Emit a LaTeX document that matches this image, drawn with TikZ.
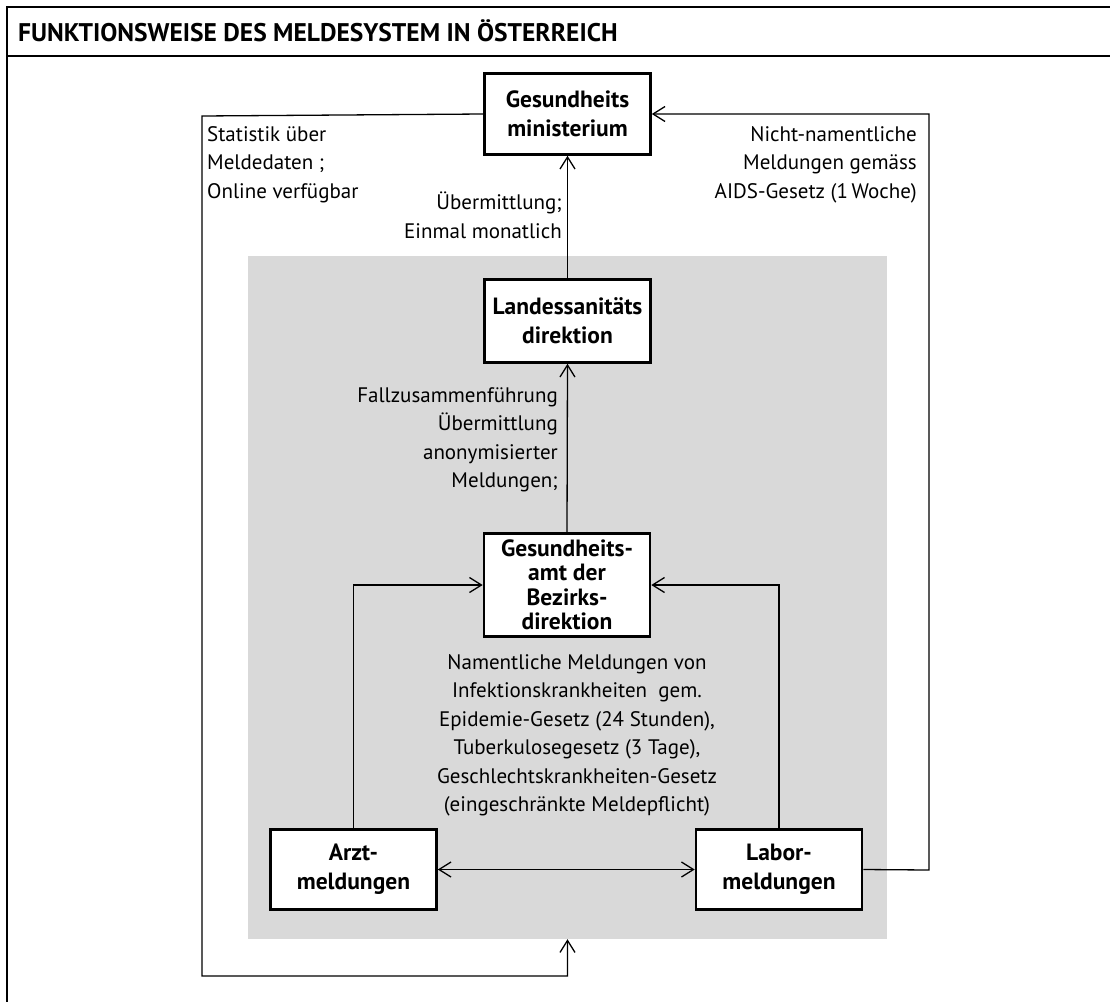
\documentclass[tikz,border=0pt]{standalone}
\usepackage{fontspec}
\setmainfont{PT Sans}
\usetikzlibrary{arrows.meta}
\definecolor{panelgrey}{RGB}{217,217,217}

\begin{document}
\begin{tikzpicture}[x=1pt,y=-1pt,
  box/.style={draw, line width=2.6pt, fill=white, align=center, inner sep=0pt,
    minimum width=166pt, font=\bfseries\fontsize{23.5}{29}\selectfont},
  note/.style={inner sep=0pt, font=\fontsize{21}{28.5}\selectfont},
  link/.style={line width=1.3pt, -{Straight Barb[length=12pt,width=15pt]}}]
\useasboundingbox (0,0) rectangle (1110,1001);

%% frame and title
\draw[line width=2.2pt] (7,1010) -- (7,7) -- (1120,7);
\draw[line width=2.2pt] (7,56) -- (1120,56);
\node[anchor=base west, inner sep=0pt, font=\bfseries\fontsize{25.5}{30}\selectfont]
  (title) at (18,41) {FUNKTIONSWEISE DES MELDESYSTEM IN ÖSTERREICH};

%% grey panel
\node[fill=panelgrey, inner sep=0pt, minimum width=639pt, minimum height=683pt]
  (panel) at (567.5,597.5) {};

%% boxes
\node[box, minimum height=81pt] (minis) at (567.5,114) {Gesundheits\\ministerium};
\node[box, minimum height=83pt] (landes) at (567.5,321) {Landessanitäts\\direktion};
\node[box, minimum height=103pt, font=\bfseries\fontsize{23.5}{24.5}\selectfont]
  (bezirk) at (567,585) {Gesundheits-\\amt der\\Bezirks-\\direktion};
\node[box, minimum height=80pt] (arzt) at (353.5,869.5) {Arzt-\\meldungen};
\node[box, minimum height=80pt] (labor) at (779,869.5) {Labor-\\meldungen};

%% corners of the outer lines
\coordinate (lefttop) at (202,116);
\coordinate (leftbot) at (202,976);
\coordinate (rightcol) at (929,870);

%%% arrows
\draw[link] (landes.north) -- (minis.south);
\draw[link] (bezirk.north) -- (landes.south);
\draw[link] (arzt.north) |- (bezirk.west);
\draw[link] (labor.north) |- (bezirk.east);
\draw[link, {Straight Barb[length=12pt,width=15pt]}-{Straight Barb[length=12pt,width=15pt]}]
  (arzt.east) -- (labor.west);
\draw[link] (labor.east) -- (rightcol) |- (minis.east);
\draw[link] (minis.west) -- (lefttop) -- (leftbot) -| (panel.south);

%% texts
\node[note, anchor=north west, align=left] (stat) at (207,126)
  {Statistik über\\Meldedaten ;\\Online verfügbar};
\node[note, anchor=north east, align=right] (monat) at (562,192)
  {Übermittlung;\\Einmal monatlich};
\node[note, anchor=north east, align=right] (aids) at (917,126)
  {Nicht-namentliche\\Meldungen gemäss\\AIDS-Gesetz (1\,Woche)};
\node[note, anchor=north east, align=right] (fall) at (558,387)
  {Fallzusammenführung\\Übermittlung\\anonymisierter\\Meldungen;};
\node[note, anchor=north, align=center] (namen) at (577,654)
  {Namentliche Meldungen von\\Infektionskrankheiten~~gem.\\Epidemie-Gesetz (24 Stunden),\\Tuberkulosegesetz (3 Tage),\\Geschlechtskrankheiten-Gesetz\\(eingeschränkte Meldepflicht)};

\end{tikzpicture}
\end{document}
